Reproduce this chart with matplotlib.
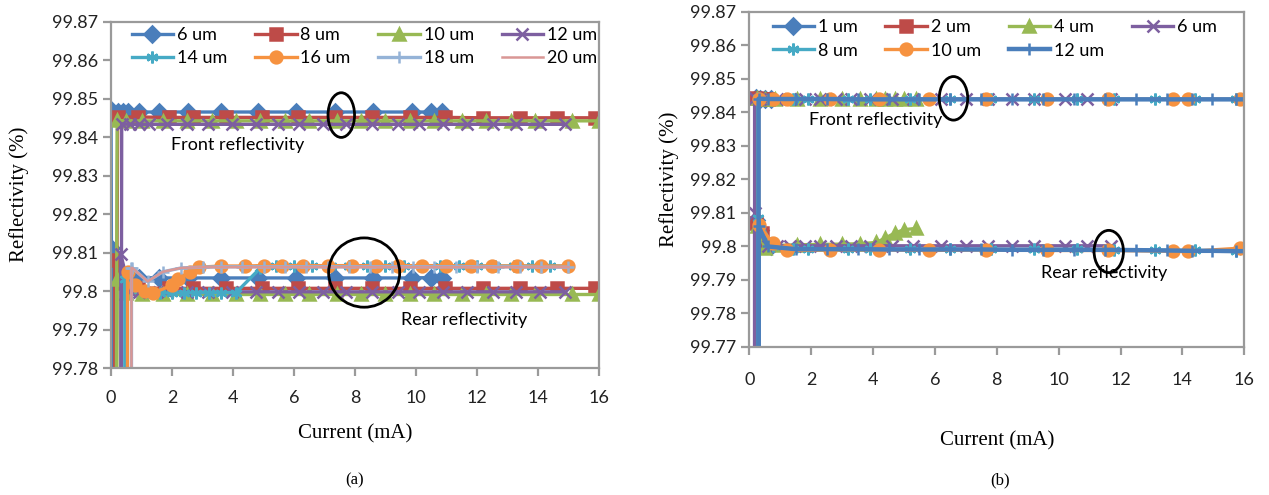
import matplotlib
matplotlib.use("Agg")
from matplotlib import pyplot as plt
from matplotlib.patches import Ellipse

SANS = ["Lato", "DejaVu Sans"]
SERIF = ["Liberation Serif", "DejaVu Serif"]
LOW = 99.70  # off-axis start value that gives the vertical lines

# ---- panel (a) ----
a_labels = ["6 um", "8 um", "10 um", "12 um", "14 um", "16 um", "18 um", "20 um"]
a_colors = ["#4A7EBB", "#BE4B48", "#98B954", "#7D5FA0", "#46AAC5", "#F69240", "#95B3D7", "#D99795"]
a_markers = ["D", "s", "^", "x", (6, 2, 0), "o", "+", None]
a_start = [0.05, 0.12, 0.15, 0.32, 0.45, 0.54, 0.67, 0.67]

a_front_x = [
    [0, 0.22, 0.39, 0.57, 0.93, 1.58, 2.52, 3.62, 4.83, 6.07, 7.34, 8.6, 9.86, 10.5, 10.85],
    [0.22, 0.87, 1.9, 2.68, 3.78, 4.94, 6.14, 7.34, 8.56, 9.79, 10.96, 12.19, 13.41, 14.64, 15.87],
    [0.2, 0.5, 1.0, 1.7, 2.5, 3.3, 4.1, 4.9, 5.7, 6.5, 7.4, 8.2, 9.0, 9.8, 10.6, 11.5, 12.3, 13.1, 13.9, 15.1, 16.0],
    [0.35, 0.61, 0.93, 1.26, 1.84, 2.48, 3.19, 3.97, 4.75, 5.46, 6.17, 6.95, 7.72, 8.56, 9.4, 10.1, 10.89,
     11.67, 12.51, 13.28, 14.06, 14.9],
    [], [], [], [],
]
a_front_y = [
    [99.8470, 99.8466, 99.8466, 99.8465, 99.8465, 99.8465, 99.8465, 99.8465, 99.8465, 99.8465, 99.8465,
     99.8465, 99.8465, 99.8465, 99.8465],
    [99.8452, 99.8452, 99.8451, 99.8451, 99.8451, 99.8451, 99.8451, 99.8451, 99.8451, 99.8451, 99.8451,
     99.8450, 99.8450, 99.8450, 99.8450],
    [99.8443, 99.8442, 99.8442, 99.8442, 99.8442, 99.8442, 99.8442, 99.8442, 99.8442, 99.8442, 99.8442,
     99.8442, 99.8442, 99.8442, 99.8442, 99.8442, 99.8442, 99.8442, 99.8442, 99.8442, 99.8442],
    [99.8434, 99.8433, 99.8433, 99.8433, 99.8433, 99.8433, 99.8433, 99.8433, 99.8433, 99.8433, 99.8433,
     99.8433, 99.8433, 99.8433, 99.8433, 99.8433, 99.8433, 99.8433, 99.8433, 99.8433, 99.8433, 99.8433],
    [], [], [], [],
]

a_rear_x = [
    [0, 0.05, 0.39, 0.93, 1.58, 2.52, 3.62, 4.83, 6.07, 7.34, 8.6, 9.86, 10.5, 10.85],
    [0.12, 0.3, 0.87, 1.9, 2.68, 3.78, 4.94, 6.14, 7.34, 8.56, 9.79, 10.96, 12.19, 13.41, 14.64, 15.87],
    [0.2, 0.5, 1.0, 1.7, 2.5, 3.3, 4.1, 4.9, 5.7, 6.5, 7.4, 8.2, 9.0, 9.8, 10.6, 11.5, 12.3, 13.1, 13.9, 15.1, 16.0],
    [0.32, 0.61, 0.93, 1.26, 1.84, 2.48, 3.19, 3.97, 4.75, 5.46, 6.17, 6.95, 7.72, 8.56, 9.4, 10.1, 10.89,
     11.67, 12.51, 13.28, 14.06, 14.9],
    [0.45, 0.8, 1.2, 1.6, 2.0, 2.4, 2.8, 3.2, 3.6, 4.1, 4.9, 5.4, 6.0, 6.6, 7.2, 7.8, 8.4, 9.0, 9.6, 10.2,
     10.8, 11.4, 12.0, 12.6, 13.2, 13.8, 14.4, 15.0],
    [0.54, 0.8, 1.1, 1.38, 2.0, 2.2, 2.6, 2.9, 3.6, 4.4, 5.0, 5.6, 6.3, 7.1, 7.9, 8.7, 9.4, 10.2, 11.0,
     11.8, 12.5, 13.3, 14.1, 15.0],
    [0.67, 0.7, 1.2, 1.7, 2.3, 3.0, 3.6, 4.3, 5.0, 5.7, 6.4, 7.1, 7.8, 8.5, 9.2, 9.9, 10.6, 11.3, 12.0,
     12.7, 13.4, 14.1, 15.0],
    [0.67, 0.7, 1.2, 1.7, 2.3, 3.0, 15.0],
]
a_rear_y = [
    [99.8112, 99.8056, 99.8040, 99.8035, 99.8034, 99.8034, 99.8034, 99.8034, 99.8034, 99.8034, 99.8034,
     99.8034, 99.8035, 99.8035],
    [99.8080, 99.8020, 99.8008, 99.8007, 99.8007, 99.8007, 99.8007, 99.8007, 99.8007, 99.8007, 99.8007,
     99.8007, 99.8007, 99.8007, 99.8007, 99.8007],
    [99.8030, 99.7994, 99.7992, 99.7991, 99.7991, 99.7991, 99.7991, 99.7991, 99.7991, 99.7991, 99.7991,
     99.7991, 99.7991, 99.7991, 99.7991, 99.7991, 99.7991, 99.7991, 99.7991, 99.7991, 99.7991],
    [99.8096, 99.8000, 99.7998, 99.7998, 99.7998, 99.7998, 99.7998, 99.7998, 99.7998, 99.7998, 99.7998,
     99.7998, 99.7998, 99.7998, 99.7998, 99.7998, 99.7998, 99.7998, 99.7998, 99.7998, 99.7998, 99.7998],
    [99.8030, 99.8010, 99.7997, 99.7995, 99.7995, 99.7995, 99.7996, 99.7996, 99.7996, 99.7996, 99.8060,
     99.8065, 99.8065, 99.8065, 99.8065, 99.8065, 99.8065, 99.8065, 99.8065, 99.8065, 99.8065, 99.8065,
     99.8065, 99.8065, 99.8065, 99.8065, 99.8065, 99.8065],
    [99.8050, 99.8015, 99.8000, 99.7995, 99.8015, 99.8030, 99.8050, 99.8062, 99.8065, 99.8065, 99.8066,
     99.8066, 99.8066, 99.8066, 99.8066, 99.8066, 99.8066, 99.8066, 99.8066, 99.8065, 99.8065, 99.8065,
     99.8065, 99.8065],
    [99.8060, 99.8060, 99.8025, 99.8050, 99.8060, 99.8062, 99.8063, 99.8063, 99.8063, 99.8063, 99.8063,
     99.8063, 99.8063, 99.8063, 99.8063, 99.8063, 99.8063, 99.8063, 99.8063, 99.8063, 99.8063, 99.8062,
     99.8062],
    [99.8060, 99.8060, 99.8025, 99.8050, 99.8060, 99.8062, 99.8062],
]

# ---- panel (b) ----
b_labels = ["1 um", "2 um", "4 um", "6 um", "8 um", "10 um", "12 um"]
b_colors = ["#4A7EBB", "#BE4B48", "#98B954", "#7D5FA0", "#46AAC5", "#F69240", "#4A7EBB"]
b_markers = ["D", "s", "^", "x", (6, 2, 0), "o", "+"]
b_start = [0.2, 0.22, 0.25, 0.17, 0.28, 0.3, 0.3]

b_x = [
    [0.2, 0.35, 0.5, 0.7],
    [0.22, 0.4, 0.6],
    [0.25, 0.5, 0.83, 1.55, 2.27, 3.0, 3.59, 4.1, 4.4, 4.7, 5.0, 5.4],
    [0.17, 0.35, 0.6, 0.9, 1.3, 1.8, 2.3, 2.8, 3.3, 3.9, 4.6, 5.3, 6.2, 7.0, 7.7, 8.5, 9.2, 10.2, 10.9, 11.7],
    [0.28, 0.75, 1.4, 1.9, 3.2, 3.9, 5.2, 6.5, 7.8, 9.2, 10.6, 11.8, 13.1, 14.4, 15.74],
    [0.3, 0.76, 1.22, 2.6, 4.18, 5.82, 7.66, 9.63, 11.6, 13.7, 14.17, 15.87],
    [0.3, 0.6, 1.5, 2.5, 3.5, 4.5, 5.5, 6.5, 7.5, 8.5, 9.5, 10.5, 11.5, 12.5, 13.5, 14.3, 14.95, 15.74, 16.0],
]
b_front = [
    [99.8443, 99.8441, 99.8440, 99.8440],
    [99.8442, 99.8440, 99.8440],
    [99.8442, 99.8440, 99.8440, 99.8440, 99.8440, 99.8440, 99.8440, 99.8440, 99.8440, 99.8440, 99.8440,
     99.8440],
    [99.8443, 99.8440, 99.8440, 99.8440, 99.8440, 99.8440, 99.8440, 99.8440, 99.8440, 99.8440, 99.8440,
     99.8440, 99.8439, 99.8439, 99.8439, 99.8439, 99.8439, 99.8439, 99.8439, 99.8439],
    [99.8442, 99.8440, 99.8440, 99.8440, 99.8439, 99.8439, 99.8439, 99.8439, 99.8439, 99.8439, 99.8439,
     99.8439, 99.8439, 99.8439, 99.8439],
    [99.8441, 99.8440, 99.8440, 99.8440, 99.8439, 99.8439, 99.8439, 99.8439, 99.8439, 99.8439, 99.8439,
     99.8439],
    [99.8441, 99.8440, 99.8440, 99.8440, 99.8439, 99.8439, 99.8439, 99.8439, 99.8439, 99.8439, 99.8439,
     99.8439, 99.8439, 99.8439, 99.8439, 99.8439, 99.8439, 99.8439, 99.8439],
]
b_rear = [
    [99.8080, 99.8050, 99.8010, 99.8000],
    [99.8070, 99.8040, 99.8005],
    [99.8060, 99.7996, 99.8003, 99.8005, 99.8006, 99.8007, 99.8008, 99.8012, 99.8025, 99.8040, 99.8050,
     99.8054],
    [99.8100, 99.8040, 99.8002, 99.8002, 99.8002, 99.8002, 99.8002, 99.8002, 99.8002, 99.8002, 99.8002,
     99.8002, 99.8002, 99.8002, 99.8002, 99.8002, 99.8002, 99.8002, 99.8002, 99.8002],
    [99.8085, 99.8000, 99.7993, 99.7992, 99.7992, 99.7992, 99.7992, 99.7991, 99.7991, 99.7991, 99.7991,
     99.7990, 99.7989, 99.7988, 99.7987],
    [99.8065, 99.8010, 99.7988, 99.7990, 99.7990, 99.7988, 99.7990, 99.7988, 99.7988, 99.7986, 99.7985,
     99.7995],
    [99.8060, 99.8000, 99.7992, 99.7992, 99.7992, 99.7991, 99.7991, 99.7991, 99.7991, 99.7990, 99.7990,
     99.7990, 99.7990, 99.7989, 99.7988, 99.7987, 99.7987, 99.7986, 99.7986],
]


def draw_series(ax, x0, xs, ys, color, marker, lw, label=None):
    if not xs:
        return None
    kw = dict(color=color, lw=lw, solid_joinstyle="round")
    if marker is not None:
        kw.update(marker=marker, markersize=8.5, markeredgewidth=1.8, markerfacecolor=color, markeredgecolor=color)
    return ax.plot([x0] + xs, [LOW] + ys, label=label, **kw)[0]


def fmt(v, pos):
    return f"{v:.2f}".rstrip("0").rstrip(".")


def style_axes(ax, ymin, ymax, pad, xlabelpad, ylabelpad):
    ax.set_xlim(0, 16)
    ax.set_ylim(ymin, ymax)
    ax.set_xticks(range(0, 17, 2))
    n = round((ymax - ymin) / 0.01)
    ax.set_yticks([ymin + 0.01 * i for i in range(n + 1)])
    ax.yaxis.set_major_formatter(plt.FuncFormatter(fmt))
    for side in ["left", "bottom", "top", "right"]:
        ax.spines[side].set_color("#9A9A9A")
        ax.spines[side].set_linewidth(1.6)
    ax.tick_params(axis="both", direction="out", length=6, width=1.6, color="#9A9A9A",
                   labelsize=13, labelcolor="#222222")
    ax.tick_params(axis="x", pad=pad)
    for lab in ax.get_xticklabels() + ax.get_yticklabels():
        lab.set_fontfamily(SANS)
    ax.set_xlabel("Current (mA)", family=SERIF, fontsize=15, labelpad=xlabelpad)
    ax.set_ylabel("Reflectivity (%)", family=SERIF, fontsize=15, labelpad=ylabelpad)


def row_major(handles, ncol):
    # matplotlib fills legends column by column; the reference reads row by row
    nrow = -(-len(handles) // ncol)
    order = [r * ncol + c for c in range(ncol) for r in range(nrow) if r * ncol + c < len(handles)]
    return [handles[i] for i in order]


fig = plt.figure(figsize=(12.69, 4.95), dpi=100)

# panel (a)
ax1 = fig.add_axes([0.0875, 0.2565, 0.3845, 0.700])
a_handles = []
for i in range(len(a_labels)):
    lw = 1.8 if a_markers[i] is None else 2.4
    draw_series(ax1, a_start[i], a_front_x[i], a_front_y[i], a_colors[i], a_markers[i], lw)
    a_handles.append(draw_series(ax1, a_start[i], a_rear_x[i], a_rear_y[i], a_colors[i], a_markers[i], lw,
                                 label=a_labels[i]))
style_axes(ax1, 99.78, 99.87, 10, 13, 16)
ax1.add_patch(Ellipse((7.55, 99.8457), 0.87, 0.0116, fill=False, ec="black", lw=2, zorder=10))
ax1.add_patch(Ellipse((8.3, 99.8048), 2.33, 0.0180, fill=False, ec="black", lw=2, zorder=10))
ax1.text(1.95, 99.838, "Front reflectivity", family=SANS, fontsize=13, va="center", ha="left")
ax1.text(9.5, 99.7924, "Rear reflectivity", family=SANS, fontsize=13, va="center", ha="left")
ax1.legend(handles=row_major(a_handles, 4), loc="upper left", bbox_to_anchor=(0.02, 1.015), ncol=4,
           frameon=False, prop={"family": SANS, "size": 13}, handlelength=2.3, handletextpad=0.2,
           columnspacing=1.55, labelspacing=0.4, borderaxespad=0.2)
fig.text(0.2795, 0.022, "(a)", family=SERIF, fontsize=12, ha="center")

# panel (b)
ax2 = fig.add_axes([0.5905, 0.299, 0.390, 0.677])
b_handles = []
for i in range(len(b_labels)):
    lw = 3.2 if i == len(b_labels) - 1 else 2.4
    draw_series(ax2, b_start[i], b_x[i], b_front[i], b_colors[i], b_markers[i], lw)
    b_handles.append(draw_series(ax2, b_start[i], b_x[i], b_rear[i], b_colors[i], b_markers[i], lw,
                                 label=b_labels[i]))
style_axes(ax2, 99.77, 99.87, 12, 31, 8)
ax2.add_patch(Ellipse((6.6, 99.8442), 0.92, 0.0130, fill=False, ec="black", lw=2, zorder=10))
ax2.add_patch(Ellipse((11.62, 99.7985), 0.95, 0.0126, fill=False, ec="black", lw=2, zorder=10))
ax2.text(1.94, 99.8377, "Front reflectivity", family=SANS, fontsize=13, va="center", ha="left")
ax2.text(9.44, 99.7922, "Rear reflectivity", family=SANS, fontsize=13, va="center", ha="left")
ax2.legend(handles=row_major(b_handles, 4), loc="upper left", bbox_to_anchor=(0.025, 1.01), ncol=4,
           frameon=False, prop={"family": SANS, "size": 13}, handlelength=2.3, handletextpad=0.2,
           columnspacing=1.55, labelspacing=0.4, borderaxespad=0.2)
fig.text(0.788, 0.022, "(b)", family=SERIF, fontsize=12, ha="center")

fig.savefig("out.png", dpi=100)
